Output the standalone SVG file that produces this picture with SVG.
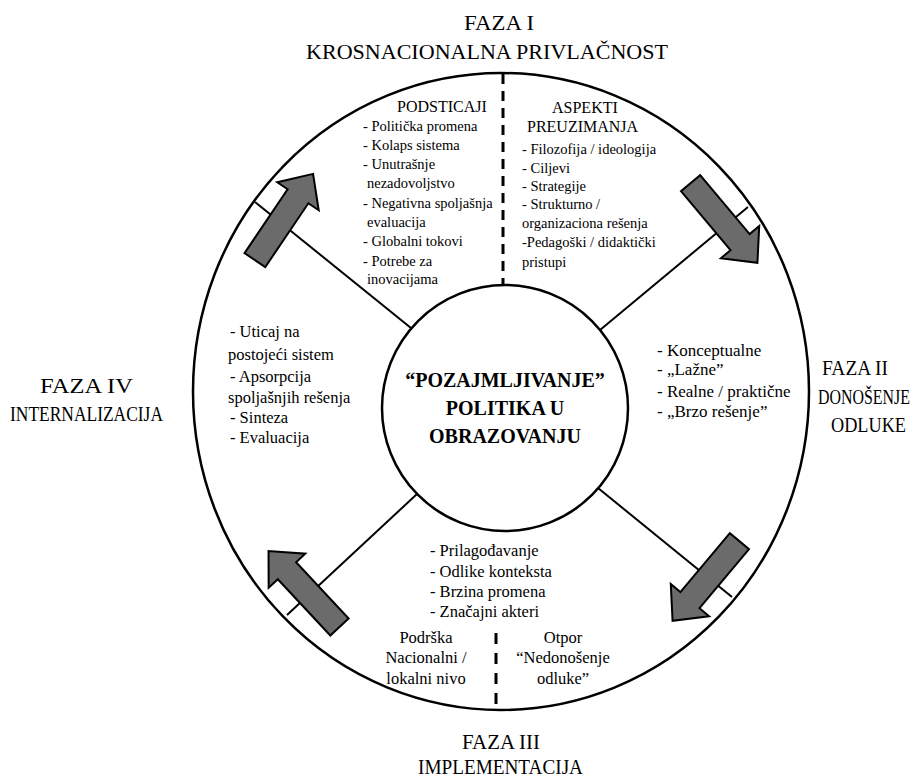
<svg xmlns="http://www.w3.org/2000/svg" xmlns:xlink="http://www.w3.org/1999/xlink" width="924" height="778" viewBox="0 0 924 778">
<style>
.t{font-family:"Liberation Serif","Times New Roman",serif;fill:#000}
.ttl{font-size:21px}
.hd{font-size:16px}
.sm{font-size:14.5px}
.md{font-size:16.5px}
.lg{font-size:17px}
.ctr{font-size:20px;font-weight:bold;text-anchor:middle}
.mid{text-anchor:middle}
.ring{fill:none;stroke:#000;stroke-width:2.5}
.spoke{stroke:#000;stroke-width:2;fill:none}
.dash{stroke:#000;stroke-width:3;fill:none}
.arr{fill:#6b6b6b;stroke:#000;stroke-width:2;stroke-linejoin:miter}
</style>
<defs>
<path id="blk" d="M-52,-12.5 L25,-12.5 L25,-25 L52,0 L25,25 L25,12.5 L-52,12.5 Z"/>
</defs>
<rect width="924" height="778" fill="#fff"/>

<g id="outer-ring">
<ellipse class="ring" cx="501" cy="391.5" rx="308" ry="318.5"/>
</g>

<g id="connectors">
<line class="spoke" x1="411" y1="328" x2="255" y2="202"/>
<line class="spoke" x1="600" y1="330" x2="748" y2="207"/>
<line class="spoke" x1="417" y1="494" x2="287" y2="615"/>
<line class="spoke" x1="598" y1="488" x2="732" y2="597"/>
<line class="dash" x1="503" y1="74" x2="503" y2="285" stroke-dasharray="10 7"/>
<line class="dash" x1="496" y1="633" x2="496" y2="710" stroke-dasharray="11 9"/>
</g>

<g id="arrows">
<use xlink:href="#blk" class="arr" transform="translate(284,217) rotate(-56)"/>
<use xlink:href="#blk" class="arr" transform="translate(724,223) rotate(50)"/>
<use xlink:href="#blk" class="arr" transform="translate(706,581) rotate(130)"/>
<use xlink:href="#blk" class="arr" transform="translate(304,589) rotate(-133)"/>
</g>

<g id="center-node">
<circle cx="505" cy="408" r="123" fill="#fff" stroke="#000" stroke-width="2.5"/>
<text class="t ctr" x="505" y="387">“POZAJMLJIVANJE”</text>
<text class="t ctr" x="505" y="415">POLITIKA U</text>
<text class="t ctr" x="505" y="443">OBRAZOVANJU</text>
</g>

<g id="faza-1">
<text class="t ttl" x="464" y="30" textLength="70" lengthAdjust="spacingAndGlyphs">FAZA I</text>
<text class="t ttl" x="306" y="59" textLength="362" lengthAdjust="spacingAndGlyphs">KROSNACIONALNA PRIVLAČNOST</text>
</g>

<g id="faza-2">
<text class="t ttl" x="822" y="375" textLength="66" lengthAdjust="spacingAndGlyphs">FAZA II</text>
<text class="t ttl" x="818" y="404" textLength="92" lengthAdjust="spacingAndGlyphs">DONOŠENJE</text>
<text class="t ttl" x="831" y="432" textLength="75" lengthAdjust="spacingAndGlyphs">ODLUKE</text>
</g>

<g id="faza-3">
<text class="t ttl" x="462" y="749" textLength="78" lengthAdjust="spacingAndGlyphs">FAZA III</text>
<text class="t ttl" x="418" y="774" textLength="165" lengthAdjust="spacingAndGlyphs">IMPLEMENTACIJA</text>
</g>

<g id="faza-4">
<text class="t ttl" x="40" y="393" textLength="93" lengthAdjust="spacingAndGlyphs">FAZA IV</text>
<text class="t ttl" x="10" y="421" textLength="153" lengthAdjust="spacingAndGlyphs">INTERNALIZACIJA</text>
</g>

<g id="podsticaji">
<text class="t hd" x="397" y="112">PODSTICAJI</text>
<text class="t sm" x="363" y="131">- Politička promena</text>
<text class="t sm" x="363" y="150">- Kolaps sistema</text>
<text class="t sm" x="363" y="169">- Unutrašnje</text>
<text class="t sm" x="367" y="188">nezadovoljstvo</text>
<text class="t sm" x="363" y="208">- Negativna spoljašnja</text>
<text class="t sm" x="367" y="227">evaluacija</text>
<text class="t sm" x="363" y="246">- Globalni tokovi</text>
<text class="t sm" x="363" y="266">- Potrebe za</text>
<text class="t sm" x="367" y="284">inovacijama</text>
</g>

<g id="aspekti">
<text class="t hd" x="552" y="113">ASPEKTI</text>
<text class="t hd" x="527" y="132">PREUZIMANJA</text>
<text class="t sm" x="522" y="154">- Filozofija / ideologija</text>
<text class="t sm" x="522" y="173">- Ciljevi</text>
<text class="t sm" x="522" y="191">- Strategije</text>
<text class="t sm" x="522" y="209">- Strukturno /</text>
<text class="t sm" x="522" y="228">organizaciona rešenja</text>
<text class="t sm" x="522" y="247">-Pedagoški / didaktički</text>
<text class="t sm" x="522" y="267">pristupi</text>
</g>

<g id="internalizacija-list">
<text class="t md" x="230" y="337">- Uticaj na</text>
<text class="t md" x="228" y="360">postojeći sistem</text>
<text class="t md" x="230" y="382">- Apsorpcija</text>
<text class="t md" x="228" y="403">spoljašnjih rešenja</text>
<text class="t md" x="230" y="423">- Sinteza</text>
<text class="t md" x="230" y="443">- Evaluacija</text>
</g>

<g id="odluke-list">
<text class="t lg" x="657" y="356">- Konceptualne</text>
<text class="t lg" x="657" y="375">- „Lažne”</text>
<text class="t lg" x="657" y="397">- Realne / praktične</text>
<text class="t lg" x="657" y="417">- „Brzo rešenje”</text>
</g>

<g id="implementacija-list">
<text class="t md" x="430" y="556">- Prilagođavanje</text>
<text class="t md" x="430" y="577">- Odlike konteksta</text>
<text class="t md" x="430" y="597">- Brzina promena</text>
<text class="t md" x="430" y="617">- Značajni akteri</text>
</g>

<g id="podrska">
<text class="t md mid" x="426" y="643">Podrška</text>
<text class="t md mid" x="426" y="663">Nacionalni /</text>
<text class="t md mid" x="426" y="684">lokalni nivo</text>
</g>

<g id="otpor">
<text class="t md mid" x="563" y="643">Otpor</text>
<text class="t md mid" x="563" y="663">“Nedonošenje</text>
<text class="t md mid" x="563" y="684">odluke”</text>
</g>
</svg>
